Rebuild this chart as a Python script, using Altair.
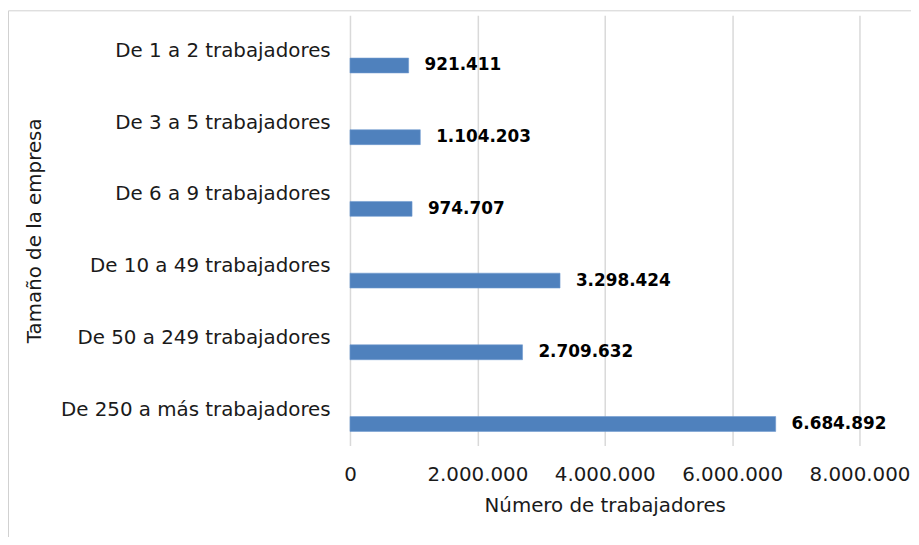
import altair as alt
import pandas as pd

categories = [
    "De 1 a 2 trabajadores",
    "De 3 a 5 trabajadores",
    "De 6 a 9 trabajadores",
    "De 10 a 49 trabajadores",
    "De 50 a 249 trabajadores",
    "De 250 a más trabajadores",
]
values = [921411, 1104203, 974707, 3298424, 2709632, 6684892]
x_ticks = [0, 2000000, 4000000, 6000000, 8000000]

labels = [f"{v:,}".replace(",", ".") for v in values]
df = pd.DataFrame({"cat": categories, "val": values, "lab": labels})

W, H = 514, 434
FONT = "DejaVu Sans"
TXT = "#1a1a1a"

y_enc = alt.Y(
    "cat:N",
    sort=categories,
    scale=alt.Scale(paddingInner=0, paddingOuter=0),
    axis=alt.Axis(
        title="Tamaño de la empresa",
        titleFont=FONT,
        titleFontSize=20,
        titleFontWeight="normal",
        titleColor=TXT,
        titleX=-318,
        titleY=H / 2,
        titleAngle=-90,
        titleAlign="center",
        titleBaseline="middle",
        labelFont=FONT,
        labelFontSize=20,
        labelColor=TXT,
        labelPadding=20,
        labelLimit=400,
        labelOverlap=False,
        ticks=False,
        domain=False,
        grid=False,
    ),
)

x_enc = alt.X(
    "val:Q",
    scale=alt.Scale(domain=[0, 8000000], nice=False, zero=True),
    axis=alt.Axis(
        title="Número de trabajadores",
        titleFont=FONT,
        titleFontSize=20,
        titleFontWeight="normal",
        titleColor=TXT,
        titleY=61,
        titleBaseline="middle",
        values=x_ticks,
        labelExpr="replace(format(datum.value, ',d'), regexp(',', 'g'), '.')",
        labelFont=FONT,
        labelFontSize=20,
        labelColor=TXT,
        labelPadding=19,
        labelOverlap=False,
        labelFlush=False,
        ticks=False,
        domain=False,
        grid=True,
        gridColor="#d9d9d9",
        gridWidth=1.5,
    ),
)

base = alt.Chart(df)

bars = base.mark_bar(height=15, yOffset=14.5, color="#4f81bd", stroke="#6f9ad0", strokeWidth=0.6).encode(
    x=x_enc, y=y_enc
)

text = base.mark_text(
    align="left",
    baseline="middle",
    dx=16,
    yOffset=14.5,
    font=FONT,
    fontSize=17,
    fontWeight="bold",
    color="#000000",
).encode(x="val:Q", y=alt.Y("cat:N", sort=categories), text="lab:N")

frame = alt.Chart(pd.DataFrame({"a": [0]})).mark_rect(
    fillOpacity=0, stroke="#d0d0d0", strokeWidth=1, clip=False
).encode(
    x=alt.value(-344.5),
    x2=alt.value(W + 200),
    y=alt.value(-4.5),
    y2=alt.value(H + 300),
)

chart = (
    alt.layer(frame, bars, text)
    .properties(
        width=W,
        height=H,
        autosize=alt.AutoSizeParams(type="none"),
        padding={"left": 345, "top": 5, "right": 52, "bottom": 90},
    )
    .configure_view(stroke=None)
)

chart.save("out.html", embed_options={"renderer": "svg", "actions": False})
